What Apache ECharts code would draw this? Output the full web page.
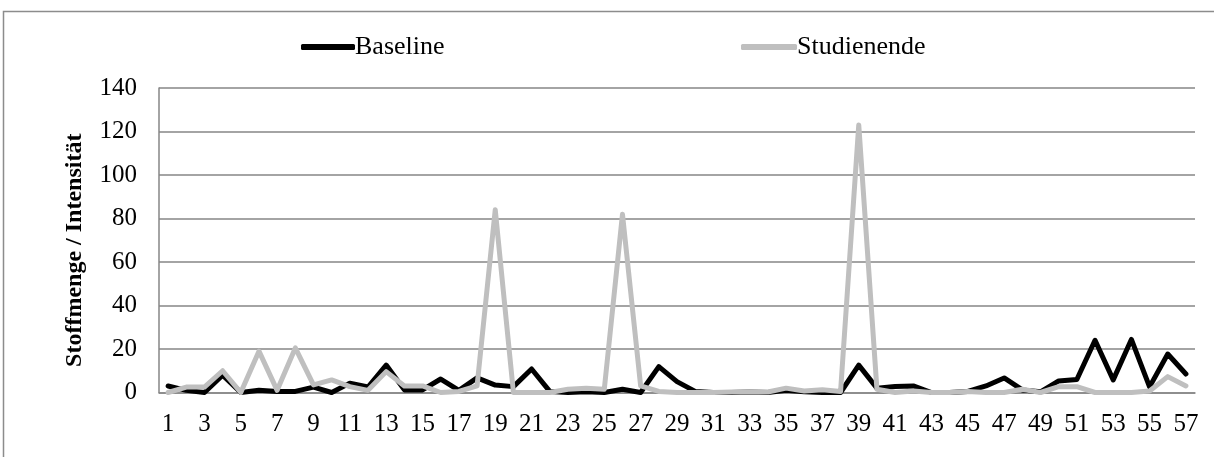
<!DOCTYPE html>
<html>
<head>
<meta charset="utf-8">
<script src="https://cdn.jsdelivr.net/npm/echarts@6/dist/echarts.min.js"></script>
<style>
html,body{margin:0;padding:0;background:#fff;}
#c{width:1214px;height:457px;}
</style>
</head>
<body>
<div id="c"></div>
<script>
var categories = [];
for (var i = 1; i <= 57; i++) categories.push(String(i));

var baseline = [3, 1, 0, 8, 0, 1, 0.5, 0.5, 2.5, 0,
  4.3, 2.5, 12.6, 1.2, 1.2, 6.2, 1, 6.7, 3.4, 2.7,
  10.8, 0.5, 0, 0.3, 0, 1.5, 0, 11.9, 5, 0.5,
  0, 0, 0.2, 0, 1, 0.3, 0, 0, 12.6, 2,
  2.8, 3, 0, 0, 0.5, 3, 6.7, 1.2, 0.3, 5.3,
  6, 24, 5.8, 24.4, 2.6, 17.7, 8.5];

var studienende = [0, 2.5, 2.5, 10, 0, 19, 1, 20.5, 3.5, 5.8,
  2.7, 1, 9.6, 3, 3, 0, 0.5, 3, 84, 0,
  0, 0, 1.5, 2, 1.5, 82, 3, 0.5, 0, 0,
  0, 0.2, 0.3, 0.2, 2, 0.7, 1.3, 0.5, 123, 1.5,
  0, 0.7, 0, 0, 0.5, 0, 0, 1.5, 0, 2.7,
  2.7, 0, 0, 0, 0.7, 7.3, 3];

var yTicks = { min: 0, max: 140, interval: 20 };
var seriesNames = ['Baseline', 'Studienende'];

var font = '"Liberation Serif", "Times New Roman", serif';
var chart = echarts.init(document.getElementById('c'));
chart.setOption({
  animation: false,
  backgroundColor: '#fff',
  textStyle: { fontFamily: font },
  graphic: [{
    type: 'rect',
    shape: { x: 3.5, y: 11.5, width: 1300, height: 600 },
    style: { fill: 'none', stroke: '#8c8c8c', lineWidth: 1.5 },
    silent: true
  }],
  legend: [{
    data: [seriesNames[0]],
    left: 296, top: 29,
    icon: 'roundRect', itemWidth: 54, itemHeight: 6, itemGap: 0,
    textStyle: { fontFamily: font, fontSize: 26, color: '#000', padding: [0, 0, 0, -5] }
  }, {
    data: [seriesNames[1]],
    left: 736, top: 29,
    icon: 'roundRect', itemWidth: 56, itemHeight: 6, itemGap: 0,
    textStyle: { fontFamily: font, fontSize: 26, color: '#000', padding: [0, 0, 0, -5] }
  }],
  grid: { left: 159, right: 19, top: 88, bottom: 64.5, containLabel: false },
  xAxis: {
    type: 'category',
    data: categories,
    boundaryGap: true,
    axisLine: { lineStyle: { color: '#868686', width: 1.5 } },
    axisTick: { show: false },
    axisLabel: { interval: 1, fontFamily: font, fontSize: 25, color: '#000', margin: 19 }
  },
  yAxis: {
    type: 'value',
    min: yTicks.min, max: yTicks.max, interval: yTicks.interval,
    name: 'Stoffmenge / Intensität',
    nameLocation: 'middle',
    nameGap: 72,
    nameTextStyle: { fontFamily: font, fontSize: 24, fontWeight: 'bold', color: '#000', padding: [0, 20, 0, 0] },
    axisLine: { show: true, lineStyle: { color: '#868686', width: 1.5 } },
    axisTick: { show: false },
    splitLine: { lineStyle: { color: '#868686', width: 1.5 } },
    axisLabel: { fontFamily: font, fontSize: 25, color: '#000', margin: 22 }
  },
  series: [{
    name: seriesNames[0],
    type: 'line',
    data: baseline,
    symbol: 'none',
    color: '#000000',
    lineStyle: { color: '#000000', width: 5, cap: 'round', join: 'round' },
    itemStyle: { color: '#000000' },
    z: 2
  }, {
    name: seriesNames[1],
    type: 'line',
    data: studienende,
    symbol: 'none',
    color: '#bfbfbf',
    lineStyle: { color: '#bfbfbf', width: 5, cap: 'round', join: 'round' },
    itemStyle: { color: '#bfbfbf' },
    z: 3
  }]
});
</script>
</body>
</html>
